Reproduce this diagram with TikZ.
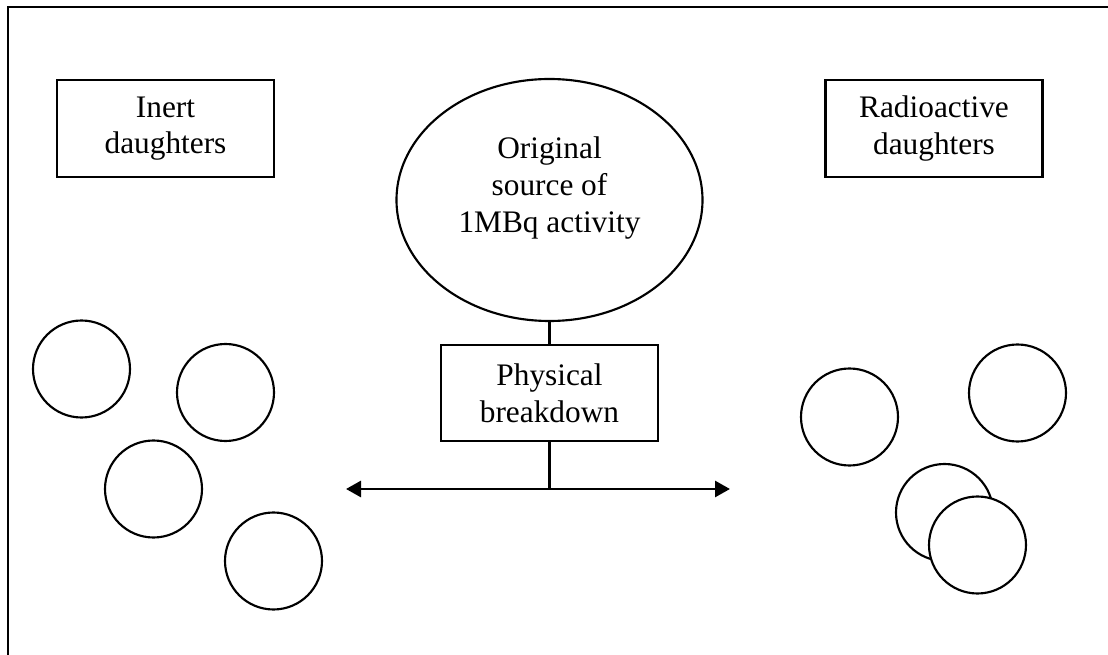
\documentclass[tikz,border=0pt]{standalone}
\usepackage{fontspec}
\setmainfont{Liberation Serif}
\usetikzlibrary{shapes.geometric,arrows.meta}
\begin{document}
\begin{tikzpicture}[x=0.75pt,y=-0.75pt,
  every node/.style={font=\fontsize{23.5}{27.5}\selectfont},
  line/.style={line width=1.7pt},
  labelbox/.style={draw,line width=1.6pt,minimum width=162.75pt,minimum height=72.75pt,align=center,inner sep=0pt},
  ball/.style={draw,circle,line width=1.6pt,minimum size=72.75pt,inner sep=0pt,fill=white}]
\useasboundingbox (0,0) rectangle (1108,655);
% frame (top and left edges only)
\coordinate (fbl) at (8,656);
\coordinate (ftl) at (8,7);
\coordinate (ftr) at (1109,7);
\draw[line] (fbl) -- (ftl) -- (ftr);
% label boxes
\node[labelbox] (inert) at (165.5,128.5) {Inert\\daughters};
\node[labelbox] (radio) at (934,128.5) {Radioactive\\daughters};
% source ellipse
\node[draw,ellipse,line width=1.6pt,minimum width=229.5pt,minimum height=181.5pt,inner sep=0pt] (src) at (549.5,200) {};
\node[align=center] (srctext) at (549.5,188) {Original\\source of\\1MBq activity};
% physical breakdown
\node[labelbox,minimum height=72pt] (phys) at (549.5,393) {Physical\\breakdown};
\draw[line] (src.south) -- (phys.north);
\coordinate (junc) at (549.5,489);
\coordinate (aL) at (346,489);
\coordinate (aR) at (730,489);
\draw[line] (phys.south) -- (junc);
\draw[line width=2.1pt,{Triangle[length=11.25pt,width=12pt]}-{Triangle[length=11.25pt,width=12pt]}] (aL) -- (aR);
% inert daughters circles
\node[ball] (i1) at (81.5,369) {};
\node[ball] (i2) at (225.5,392.5) {};
\node[ball] (i3) at (153.5,489) {};
\node[ball] (i4) at (273.5,561) {};
% radioactive daughters circles
\node[ball] (r1) at (849.5,417) {};
\node[ball] (r2) at (1017.5,393) {};
\node[ball] (r3) at (944.5,512.5) {};
\node[ball] (r4) at (977.5,545) {};
\end{tikzpicture}
\end{document}
